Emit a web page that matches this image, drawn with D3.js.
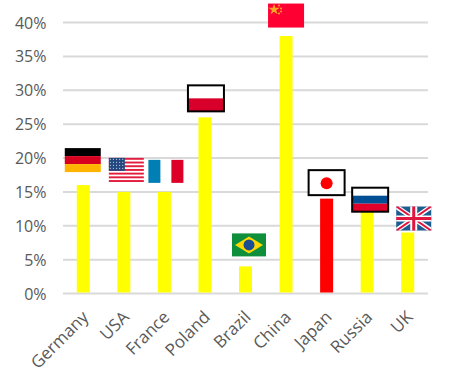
<!DOCTYPE html>
<html><head><meta charset="utf-8">
<script src="https://cdn.jsdelivr.net/npm/d3@7/dist/d3.min.js"></script>
<style>html,body{margin:0;padding:0;background:#fff}svg{display:block}text{font-family:"Open Sans",sans-serif;fill:#595959}</style>
</head><body><svg id="c" width="451" height="385"></svg>
<script>
const categories=["Germany","USA","France","Poland","Brazil","China","Japan","Russia","UK"];
const shares=[16,15,15,26,4,38,14,12,9];
const highlighted=["Japan"];
const ticks=[0,5,10,15,20,25,30,35,40];
const W=36,H=24;
const svg=d3.select("#c");
const x=d3.scaleBand().domain(categories).range([63,428]);
const y=d3.scaleLinear().domain([0,40]).range([293.5,22.5]);
const g=svg.append("g");
ticks.forEach(t=>{g.append("line").attr("x1",63).attr("x2",428).attr("y1",y(t)).attr("y2",y(t)).attr("stroke","#d9d9d9").attr("stroke-width",2)});
ticks.forEach(t=>{g.append("text").attr("x",46.5).attr("y",y(t)+6).attr("text-anchor","end").attr("font-size",16).text(t+"%")});
categories.forEach((c,i)=>{
 const cx=x(c)+x.bandwidth()/2;
 g.append("rect").attr("x",cx-6.5).attr("y",y(shares[i])).attr("width",13).attr("height",y(0)-y(shares[i])-1).attr("fill",highlighted.includes(c)?"#ff0000":"#ffff00");
 g.append("text").attr("transform",`translate(${cx-1},${311}) rotate(-45)`).attr("text-anchor","end").attr("dy","0.6em").attr("font-size",17).text(c);
});
const flag={
Germany(f){f.r(0,0,W,8,"#000");f.r(0,8,W,8,"#d8001f");f.r(0,16,W,8,"#ffb400")},
USA(f){f.r(0,0,35,24,"#fff");for(let i=0;i<7;i++)f.r(0,i*3.7,35,1.9,"#e31b3c");f.r(0,0,16,13,"#23487f");for(let a=0;a<4;a++)for(let b=0;b<5;b++)f.r(1+b*3.1,1+a*3,1,1,"#cdd7e8")},
France(f){f.r(0,0,12,23,"#007fb5");f.r(23,0,12,23,"#dc0028")},
Poland(f){f.r(0,0,W,26,"#fff");f.r(0,13,W,13,"#d8002a");f.b(W,26)},
Brazil(f){f.r(0,0,34,23,"#0f8f3c");f.p("M17 3L31 11.5L17 20L3 11.5Z","#ffd800");f.c(17,11.5,5.5,"#1b4d92")},
China(f){f.r(0,0,W,24,"#ff0033");f.star(6,6,3.5);[[11,2],[13,5],[13,8],[11,10]].forEach(p=>f.c(p[0],p[1],1,"#f6a723"))},
Japan(f){f.r(0,0,36,25,"#fff");f.c(18,13,6,"#ff0000");f.b(36,25)},
Russia(f){f.r(0,0,36,24,"#fff");f.r(0,8,36,8,"#004f94");f.r(0,16,36,8,"#e0002a");f.b(36,24)},
UK(f){f.r(0,0,35,24,"#1d5c90");
 f.p("M0 0L4 0L35 21L35 24L31 24L0 3Z","#fff");f.p("M35 0L31 0L0 21L0 24L4 24L35 3Z","#fff");
 f.p("M0 0L2 0L35 23L35 24L33 24L0 1Z","#e0153f");f.p("M35 0L33 0L0 23L0 24L2 24L35 1Z","#e0153f");
 f.r(14,0,7,24,"#fff");f.r(0,9,35,6,"#fff");f.r(16,0,3,24,"#e0153f");f.r(0,10.5,35,3,"#e0153f")}
};
// left and top of each flag, measured from the bar's centre and its top
const flagOffsets={Germany:[-18.5,-37],USA:[-15,-34],France:[-16,-32],Poland:[-17,-32],Brazil:[-13.5,-33],China:[-18,-32.5],Japan:[-18,-28.5],Russia:[-15,-24.5],UK:[-11.5,-26]};
categories.forEach((c,i)=>{
 const o=flagOffsets[c],gx=x(c)+x.bandwidth()/2+o[0],gy=y(shares[i])+o[1];
 const n=svg.append("g").attr("transform",`translate(${gx},${gy})`);
 flag[c]({
  r:(a,b,w,h,col)=>n.append("rect").attr("x",a).attr("y",b).attr("width",w).attr("height",h).attr("fill",col),
  c:(a,b,r,col)=>n.append("circle").attr("cx",a).attr("cy",b).attr("r",r).attr("fill",col),
  p:(d,col)=>n.append("path").attr("d",d).attr("fill",col),
  b:(w,h)=>n.append("rect").attr("x",0).attr("y",0).attr("width",w).attr("height",h).attr("fill","none").attr("stroke","#000").attr("stroke-width",2),
  star:(a,b,r)=>n.append("path").attr("transform",`translate(${a},${b})`).attr("d",d3.symbol(d3.symbolStar,r*r*3.2)()).attr("fill","#f6a723")
 });
});
</script></body></html>
